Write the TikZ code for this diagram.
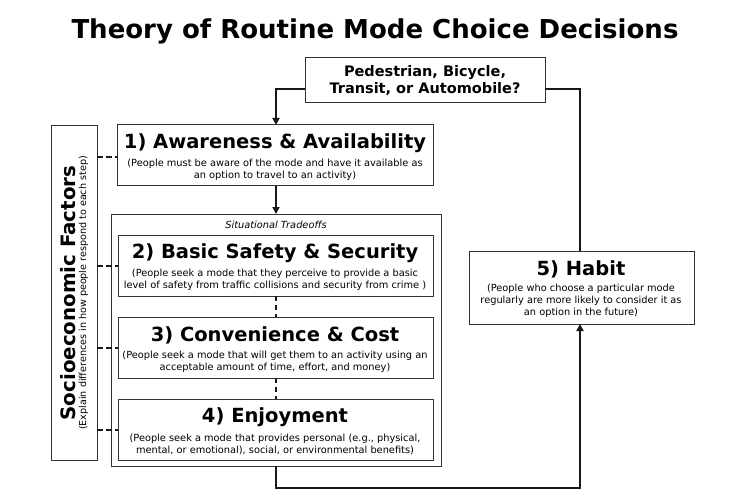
\documentclass[tikz,border=0pt]{standalone}
\usepackage{fontspec}
\setmainfont{DejaVu Sans}
\usetikzlibrary{arrows.meta}
\begin{document}
\begin{tikzpicture}[x=1pt,y=-1pt,
 box/.style={draw=black!80,line width=1pt,fill=white},
 head/.style={font=\bfseries\fontsize{19.5}{21}\selectfont},
 sub/.style={font=\fontsize{9.8}{12}\selectfont,align=center},
 conn/.style={line width=2.2pt,draw=black!90},
 arr/.style={-{Triangle[length=7pt,width=7pt]}},
 dconn/.style={conn,dash pattern=on 5pt off 4pt}]
\useasboundingbox[fill=white] (0,0) rectangle (750,500);
\node[font=\bfseries\fontsize{26}{28}\selectfont] (title) at (375,31) {Theory of Routine Mode Choice Decisions};
% boxes
\draw[box] (305,58) rectangle (545,103); \coordinate (tl) at (305,89); \coordinate (tr) at (545,89);
\node[font=\bfseries\fontsize{14.5}{17}\selectfont,align=center] (q) at (425,81) {Pedestrian, Bicycle,\\Transit, or Automobile?};
\draw[box] (51,126) rectangle (97,460);
\node[rotate=90,align=center] (soc) at (74,293) {{\bfseries\fontsize{19.8}{21}\selectfont Socioeconomic Factors}\\[-1pt]{\fontsize{9.6}{11}\selectfont (Explain differences in how people respond to each step)}};
\draw[box] (117,125) rectangle (433,186);
\node[head] (h1) at (275,143) {1) Awareness \& Availability};
\node[sub] (s1) at (275,170) {(People must be aware of the mode and have it available as\\an option to travel to an activity)};
\draw[box] (111,214) rectangle (441,466);
\node[font=\itshape\fontsize{9.8}{11}\selectfont] (sit) at (276,225) {Situational Tradeoffs};
\draw[box] (118,235) rectangle (433,296);
\node[head] (h2) at (275,253) {2) Basic Safety \& Security};
\node[sub] (s2) at (275,280) {(People seek a mode that they perceive to provide a basic\\level of safety from traffic collisions and security from crime )};
\draw[box] (118,317) rectangle (433,378);
\node[head] (h3) at (275,335) {3) Convenience \& Cost};
\node[sub] (s3) at (275,362) {(People seek a mode that will get them to an activity using an\\acceptable amount of time, effort, and money)};
\draw[box] (118,399) rectangle (433,460);
\node[head] (h4) at (275,417) {4) Enjoyment};
\node[sub] (s4) at (275,444) {(People seek a mode that provides personal (e.g., physical,\\mental, or emotional), social, or environmental benefits)};
\draw[box] (469,251) rectangle (694,324);
\node[head] (h5) at (581,269) {5) Habit};
\node[sub] (s5) at (581,301) {(People who choose a particular mode\\regularly are more likely to consider it as\\an option in the future)};
% connectors
\coordinate (b1) at (276,125); \coordinate (b1b) at (276,186); \coordinate (ob) at (276,214);
\coordinate (hb) at (580,251); \coordinate (hbb) at (580,324); \coordinate (obb) at (276,466);
\draw[conn,arr] (tl) -| (b1);
\draw[conn] (tr) -| (hb);
\draw[conn,arr] (b1b) -- (ob);
\draw[conn,arr] (obb) |- (430,488) -| (hbb);
\draw[dconn] (276,296) -- (276,317);
\draw[dconn] (276,378) -- (276,399);
\foreach \y in {157,266,348,430} \draw[dconn,dash pattern=on 6pt off 3pt] (97,\y) -- (118,\y);
\end{tikzpicture}
\end{document}
